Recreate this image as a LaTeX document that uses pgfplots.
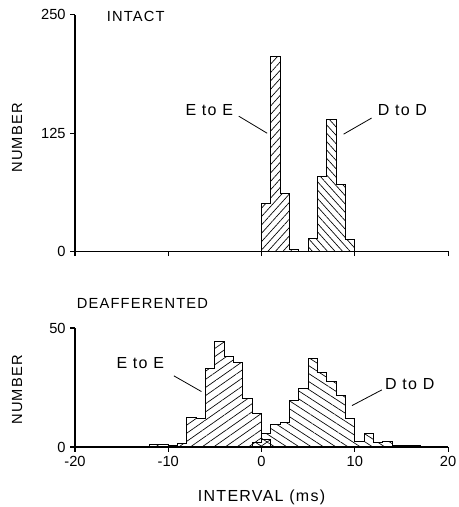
\documentclass[border=0pt]{standalone}
\usepackage{fontspec}
\setmainfont{Liberation Sans}
\newfontfamily\lab[LetterSpace=8]{Liberation Sans}
\usepackage{pgfplots}
\usepackage{pgfplotstable}
\pgfplotsset{compat=1.18}
\usetikzlibrary{patterns.meta}

\pgfplotstableread{
x y
0 51
1 206
2 61
3 2
4 2
}\intactE
\pgfplotstableread{
x y
5 14
6 79
7 140
8 71
9 13
10 13
}\intactD
\pgfplotstableread{
x y
-12 1
-11 1
-10 0.6
-9 1.5
-8 12.5
-7 12
-6 32.8
-5 44.5
-4 38
-3 35.5
-2 20.5
-1 14
0 3
1 3
}\deafE
\pgfplotstableread{
x y
-1 2
0 5.5
1 9.5
2 10.5
3 19.5
4 24.5
5 37.2
6 31.5
7 27.5
8 21.5
9 11.8
10 2.5
11 5.5
12 2
13 2.5
14 0.7
15 0.7
16 0.7
17 0.7
}\deafD

\pgfplotsset{
  myaxis/.style={
    scale only axis, width=279.75pt,
    axis lines*=left, xmin=-20, xmax=20,
    xtick={-20,-10,0,10,20},
    tick align=outside, major tick length=3.5pt,
    axis line style={line width=0.8pt},
    every tick/.style={black, line width=0.8pt},
    tick label style={font=\fontsize{11}{13}\selectfont},
    /pgf/number format/assume math mode=true,
    clip=false,
    every axis y label/.style={at={(axis description cs:-0.155,0.48)}, rotate=90, anchor=center, font=\lab\fontsize{11}{13}\selectfont},
  },
  hist/.style={const plot mark left, black, line width=0.75pt},
}

\begin{document}
\begin{tikzpicture}
\useasboundingbox (-56.25pt,-191.6pt) rectangle (287.25pt,188.6pt);
% INTACT
\begin{axis}[myaxis, at={(0,0)}, anchor=south west,
  height=177.4pt, ymin=0, ymax=250, ytick={0,125,250}, xticklabels={},
  ylabel={NUMBER}]
\addplot[hist, pattern={Lines[angle=48,distance=4.2pt,line width=0.5pt]}] table {\intactE} \closedcycle;
\addplot[hist, pattern={Lines[angle=-48,distance=4.2pt,line width=0.5pt]}] table {\intactD} \closedcycle;
\node[anchor=west, font=\lab\fontsize{11}{13}\selectfont] at (axis cs:-17.1,248) {INTACT};
\node[font=\lab\fontsize{12}{14}\selectfont] at (axis cs:-5.6,149) {E to E};
\draw[line width=0.6pt] (axis cs:-2.44,143) -- (axis cs:0.6,125);
\node[font=\lab\fontsize{12}{14}\selectfont] at (axis cs:15.1,149) {D to D};
\draw[line width=0.6pt] (axis cs:8.8,124) -- (axis cs:11.8,141);
\end{axis}
% DEAFFERENTED
\begin{axis}[myaxis, at={(0,-146.6pt)}, anchor=south west,
  height=89.25pt, ymin=0, ymax=50, ytick={0,50},
  ylabel={NUMBER},
  xlabel={INTERVAL (ms)},
  every axis x label/.style={at={(axis description cs:0.5,-0.42)}, anchor=center, font=\lab\fontsize{12}{14}\selectfont}]
\addplot[hist, pattern={Lines[angle=35,distance=5pt,line width=0.5pt]}] table {\deafE} \closedcycle;
\addplot[hist, pattern={Lines[angle=-33,distance=5pt,line width=0.5pt]}] table {\deafD} \closedcycle;
\node[anchor=west, font=\lab\fontsize{11}{13}\selectfont] at (axis cs:-20.3,60.3) {DEAFFERENTED};
\node[font=\lab\fontsize{12}{14}\selectfont] at (axis cs:-13.0,35.3) {E to E};
\draw[line width=0.6pt] (axis cs:-9.4,29.9) -- (axis cs:-6.45,23.3);
\node[font=\lab\fontsize{12}{14}\selectfont] at (axis cs:15.9,26.5) {D to D};
\draw[line width=0.6pt] (axis cs:9.7,17.4) -- (axis cs:12.9,24);
\end{axis}
\end{tikzpicture}
\end{document}
